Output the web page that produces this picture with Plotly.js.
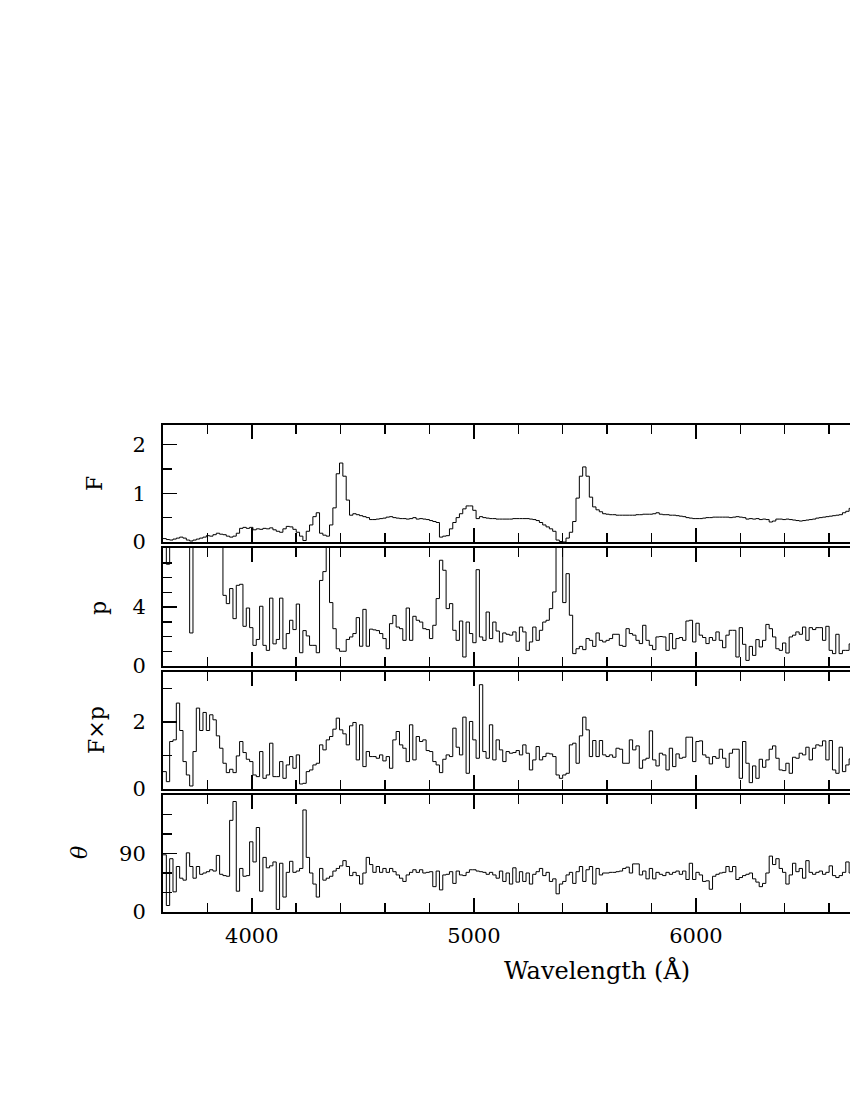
<!DOCTYPE html>
<html><head><meta charset="utf-8">
<script src="https://cdn.plot.ly/plotly-3.0.1.min.js"></script>
<style>html,body{margin:0;padding:0;background:#fff;overflow:hidden}</style>
</head><body><div id="chart" style="width:850px;height:1100px"></div>
<script>
const waveStart = 3600;   // first bin start (Angstrom)
const binWidth = 15;      // bin width (Angstrom)

const flux = [
0.07,0.05,0.04,0.06,0.08,0.10,0.08,0.04,0.02,0.04,
0.06,0.08,0.10,0.13,0.12,0.15,0.18,0.16,0.15,0.12,
0.10,0.12,0.18,0.28,0.30,0.28,0.30,0.25,0.27,0.26,
0.28,0.27,0.29,0.25,0.22,0.20,0.27,0.32,0.31,0.26,
0.20,0.12,0.03,0.22,0.35,0.52,0.60,0.18,0.14,0.12,
0.35,0.70,1.40,1.62,1.35,0.86,0.55,0.58,0.56,0.54,
0.52,0.50,0.46,0.46,0.47,0.48,0.49,0.51,0.52,0.50,
0.49,0.48,0.48,0.47,0.48,0.50,0.47,0.48,0.47,0.46,
0.44,0.42,0.40,0.10,0.12,0.13,0.27,0.40,0.50,0.58,
0.68,0.74,0.74,0.65,0.48,0.52,0.50,0.49,0.48,0.48,
0.47,0.47,0.47,0.47,0.47,0.48,0.48,0.48,0.48,0.48,
0.47,0.46,0.44,0.40,0.35,0.31,0.27,0.22,0.04,0.01,
0.00,0.08,0.20,0.42,0.90,1.35,1.54,1.35,0.92,0.72,
0.66,0.62,0.58,0.57,0.56,0.56,0.55,0.55,0.55,0.55,
0.55,0.55,0.56,0.56,0.57,0.57,0.57,0.58,0.60,0.57,
0.56,0.56,0.55,0.55,0.54,0.53,0.52,0.50,0.49,0.48,
0.48,0.48,0.49,0.50,0.50,0.51,0.51,0.51,0.51,0.51,
0.50,0.51,0.52,0.51,0.50,0.47,0.48,0.47,0.48,0.46,
0.47,0.46,0.41,0.43,0.47,0.47,0.46,0.47,0.46,0.45,
0.44,0.43,0.44,0.45,0.46,0.47,0.49,0.50,0.51,0.52,
0.53,0.54,0.55,0.56,0.60,0.63,0.69,0.72,0.74];

const polarization = [
9.5,6.9,9.5,9.5,9.5,9.5,9.5,9.5,2.24,9.5,
9.5,9.5,9.5,9.5,9.5,9.5,9.5,9.5,4.79,4.23,
5.25,3.21,5.47,5.54,2.69,3.93,2.60,1.40,1.80,4.05,
1.40,1.06,4.60,1.50,1.80,4.60,1.17,2.20,3.10,2.47,
4.20,0.90,2.40,2.04,1.40,1.40,0.90,5.80,6.40,9.5,
4.30,2.53,1.17,1.00,1.00,1.80,1.97,2.20,3.28,1.34,
3.84,1.34,2.50,2.45,2.40,2.20,1.86,1.17,2.87,3.43,
2.64,2.53,1.74,3.93,1.74,3.37,3.10,2.98,2.53,2.47,
1.86,2.76,4.57,7.17,6.49,3.89,4.23,2.42,1.74,3.05,
0.61,2.98,2.20,1.58,6.53,1.97,1.74,3.66,1.86,2.98,
2.37,1.63,2.24,2.15,2.09,2.31,1.68,2.64,2.31,1.06,
1.63,2.64,1.74,2.42,2.98,3.10,3.89,5.02,9.5,9.5,
4.30,6.26,3.44,0.84,1.17,1.33,1.11,1.86,1.74,1.33,
2.24,1.74,1.63,1.74,1.86,2.15,2.15,1.40,1.33,2.53,
2.20,2.09,1.74,1.52,2.76,1.74,1.40,1.11,1.97,2.00,
1.97,1.06,2.20,1.17,1.86,1.93,1.74,3.05,3.10,1.63,
2.90,2.09,1.93,1.52,1.93,1.74,2.31,1.74,1.24,2.09,
2.42,2.42,0.61,2.60,1.47,0.38,1.33,0.72,1.79,1.29,
1.74,2.82,2.53,1.97,1.17,1.06,1.56,0.88,1.97,2.09,
2.31,2.15,2.64,1.74,2.60,2.47,2.60,2.60,1.74,2.69,
1.06,0.84,2.15,0.84,1.06,1.06,1.50,2.00,1.80];

const polarizedFlux = [
0.52,0.22,1.42,1.47,2.57,1.75,0.82,0.42,0.09,1.12,
2.42,1.75,2.29,1.75,2.22,2.07,1.59,1.22,0.77,0.49,
0.59,0.49,0.99,1.42,1.09,0.89,0.82,0.42,0.37,1.12,
0.32,0.42,1.37,0.37,0.37,0.82,0.32,0.72,0.97,0.62,
1.02,0.15,0.17,0.52,0.57,0.72,0.77,1.32,1.17,1.47,
1.57,1.79,2.12,1.77,1.65,1.32,1.89,1.99,0.87,1.92,
0.67,1.12,0.97,0.97,0.92,1.02,0.84,0.97,0.62,1.47,
1.72,1.32,1.22,0.82,1.92,0.87,1.57,1.42,1.47,1.15,
1.12,0.82,0.72,0.49,0.89,1.02,0.97,1.82,1.25,1.02,
2.15,0.47,2.02,1.47,0.92,3.12,1.12,0.92,1.92,0.87,
1.47,1.17,0.82,1.12,1.07,1.09,1.15,1.02,1.32,1.07,
0.57,0.87,1.27,0.87,0.97,1.07,1.05,0.97,0.42,0.32,
0.42,0.47,1.32,1.37,0.77,1.59,2.15,1.77,0.97,1.45,
0.97,1.45,1.02,0.97,1.02,0.95,1.22,1.19,0.77,0.77,
1.47,1.17,1.29,0.62,0.87,0.92,1.74,0.87,0.69,1.07,
1.02,0.57,1.22,0.67,1.05,0.92,0.95,1.55,1.55,0.82,
1.42,1.44,1.02,0.95,0.75,0.97,0.92,1.19,0.92,0.65,
1.07,1.19,1.19,0.32,1.42,0.77,0.19,0.69,0.32,0.89,
0.65,0.87,1.19,1.29,0.92,0.57,0.55,0.77,0.47,0.95,
0.92,1.07,1.02,1.25,0.87,1.22,1.32,1.29,1.44,0.87,
1.45,0.57,0.47,1.25,0.52,0.72,0.90,1.10,0.80];

const angle = [
88,10,82,31,70,52,49,91,70,52,
70,58,60,62,65,63,87,58,56,55,
141,170,32,67,55,56,108,77,130,32,
84,68,71,77,4,75,23,61,78,61,
63,67,157,84,60,43,23,67,49,52,
55,63,67,71,79,70,56,61,56,43,
60,84,73,61,70,61,67,61,67,62,
57,52,47,57,61,65,61,65,60,61,
62,39,63,34,57,58,62,44,63,57,
56,61,65,65,63,62,61,58,61,57,
52,63,47,60,43,68,46,62,47,60,
43,58,62,67,56,61,47,51,28,43,
47,57,61,44,62,70,47,65,70,43,
67,57,60,60,61,61,62,63,67,69,
60,74,74,57,63,51,67,51,61,58,
56,61,58,61,63,58,63,50,75,50,
61,57,47,48,35,55,58,60,61,70,
62,70,50,53,56,58,60,51,46,39,
44,60,86,73,82,67,61,43,57,75,
62,67,52,79,61,58,61,63,58,61,
71,56,53,56,61,77,60,65,58];

const panelTitles = ['F', 'p', 'F\u00d7p', '\u03b8'];
const xTitle = 'Wavelength (\u00c5)';
const yTickVals = [[0,1,2],[0,4],[0,2],[0,90]];
const yMinorStep = [0.5, 1, 1, 30];
const yRanges = [[0,2.4],[0,8],[0,3.5],[0,180]];

const wavelength = flux.map((_, i) => waveStart + binWidth * i);

const H = 1100, W = 850;
const FONT = 'DejaVu Serif';
const fy = px => 1 - px / H;
const panelsPx = [[425,542],[548,666],[672,789],[795,912]];
const xDomain = [163 / W, 1];

const series = [flux, polarization, polarizedFlux, angle];
const traces = series.map((s, k) => ({
  type: 'scatter', mode: 'lines', x: wavelength, y: s,
  xaxis: k === 0 ? 'x' : 'x' + (k + 1),
  yaxis: k === 0 ? 'y' : 'y' + (k + 1),
  line: {color: '#000', width: 1, shape: 'hv'},
  hoverinfo: 'skip', showlegend: false
}));

const layout = {
  width: W, height: H,
  margin: {l: 0, r: 0, t: 0, b: 0},
  paper_bgcolor: '#fff', plot_bgcolor: '#fff',
  font: {family: FONT, color: '#000', size: 21},
  showlegend: false,
  annotations: []
};

const titleX = [95, 98, 96, 79];
const titleY = [484, 608, 730, 853];

for (let k = 0; k < 4; k++) {
  const sx = k === 0 ? '' : String(k + 1);
  const ax = {
    domain: xDomain,
    range: [3600, 6694],
    anchor: 'y' + sx,
    showline: true, linecolor: '#000', linewidth: 2,
    mirror: 'allticks',
    ticks: 'inside', ticklen: 14, tickwidth: 1.5, tickcolor: '#000',
    tickmode: 'linear', tick0: 0, dtick: 1000,
    minor: {ticks: 'inside', ticklen: 9, tickwidth: 1.5, tickcolor: '#000', dtick: 200, tick0: 0, showgrid: false},
    showgrid: false, zeroline: false,
    showticklabels: k === 3,
    tickfont: {family: FONT, size: 21, color: '#000'},
    ticklabelstandoff: 4
  };
  if (k > 0) ax.matches = 'x';
  layout['xaxis' + sx] = ax;

  const p = panelsPx[k];
  layout['yaxis' + sx] = {
    domain: [fy(p[1]), fy(p[0])],
    range: yRanges[k],
    anchor: 'x' + sx,
    showline: true, linecolor: '#000', linewidth: 2,
    mirror: false,
    ticks: 'inside', ticklen: 14, tickwidth: 1.5, tickcolor: '#000',
    tickmode: 'array', tickvals: yTickVals[k], ticktext: yTickVals[k].map(String),
    minor: {ticks: 'inside', ticklen: 9, tickwidth: 1.5, tickcolor: '#000', dtick: yMinorStep[k], tick0: 0, showgrid: false},
    showgrid: false, zeroline: false,
    tickfont: {family: FONT, size: 21, color: '#000'},
    ticklabelstandoff: 11
  };
  layout.annotations.push({
    text: panelTitles[k], xref: 'paper', yref: 'paper',
    x: titleX[k] / W, y: fy(titleY[k]), xanchor: 'center', yanchor: 'middle',
    textangle: -90, showarrow: false,
    font: {family: FONT, size: 22, color: '#000', style: k === 3 ? 'italic' : 'normal'}
  });
}

// x-axis title: the reference frame runs past the right edge of the page, so the
// title is centred on the full (cropped) frame rather than on the visible part.
layout.annotations.push({
  text: xTitle, xref: 'paper', yref: 'paper',
  x: 597 / W, y: fy(970), xanchor: 'center', yanchor: 'middle',
  showarrow: false, font: {family: FONT, size: 24, color: '#000'}
});

Plotly.newPlot('chart', traces, layout, {staticPlot: true, displayModeBar: false});
</script>
</body></html>
